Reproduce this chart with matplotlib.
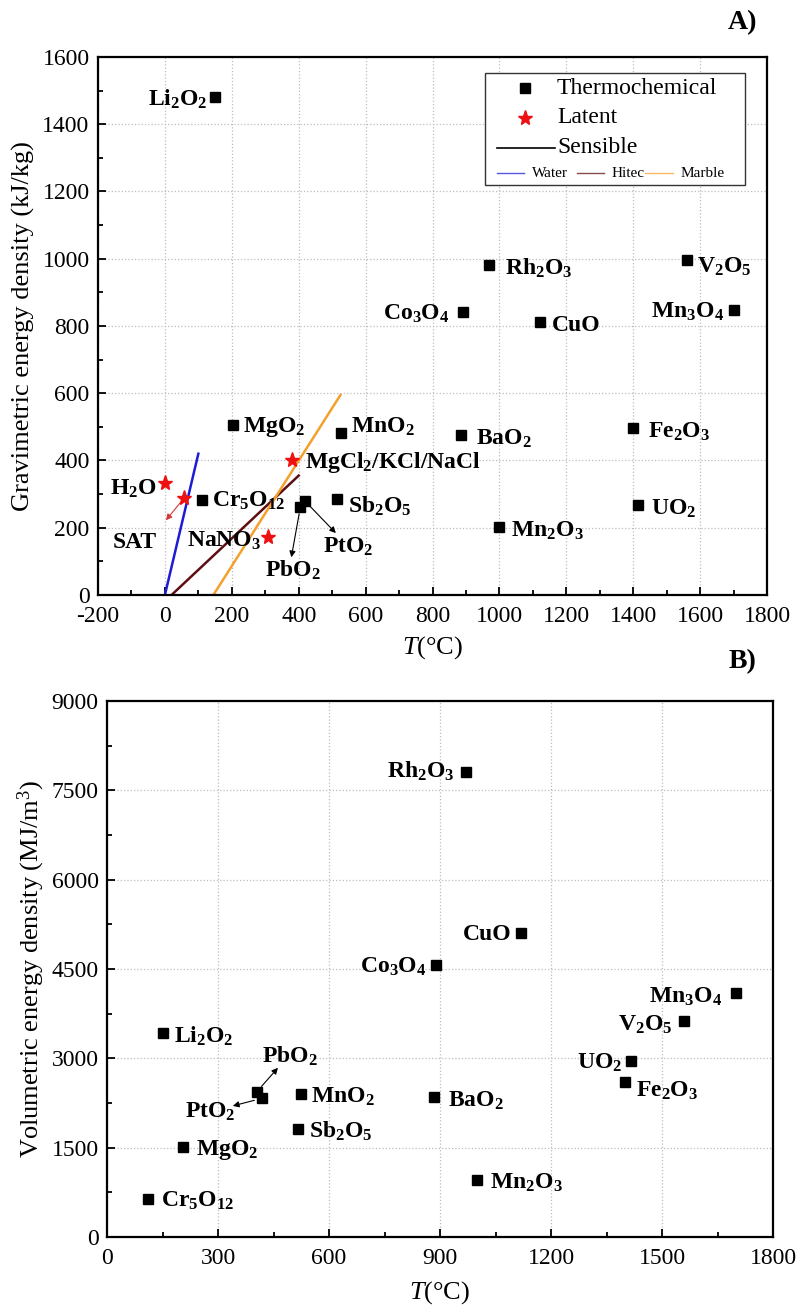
import re
import matplotlib
matplotlib.use("Agg")
import matplotlib.pyplot as plt
from matplotlib.patches import Rectangle
from matplotlib.ticker import MultipleLocator

plt.rcParams['font.family'] = ['Liberation Serif', 'DejaVu Serif']
plt.rcParams['mathtext.fontset'] = 'custom'
plt.rcParams['mathtext.rm'] = 'Liberation Serif'
plt.rcParams['mathtext.it'] = 'Liberation Serif:italic'
plt.rcParams['mathtext.bf'] = 'Liberation Serif:bold'
plt.rcParams['axes.unicode_minus'] = False

# ---- A) gravimetric energy density ----
chem_a = ["Li2O2", "Rh2O3", "V2O5", "Co3O4", "CuO", "Mn3O4", "MgO2", "MnO2",
          "BaO2", "Fe2O3", "UO2", "Mn2O3", "Sb2O5", "Cr5O12", "PbO2", "PtO2"]
temp_a = [150, 970, 1560, 890, 1120, 1700, 205, 525,
          885, 1400, 1415, 1000, 515, 110, 405, 420]
grav_a = [1480, 980, 995, 842, 812, 848, 505, 482,
          475, 497, 268, 202, 285, 282, 262, 278]

latent_names = ["H2O", "SAT", "MgCl2/KCl/NaCl", "NaNO3"]
latent_temp = [0, 58, 380, 307]
latent_grav = [333, 289, 400, 173]

# sensible storage lines (start/end)
sens_names = ["Water", "Hitec", "Marble"]
sens_t0 = [0, 20, 145]
sens_t1 = [100, 400, 525]
sens_e0 = [0, 0, 0]
sens_e1 = [420, 355, 595]
sens_colors = ["#1c1cd6", "#5e0e10", "#f4a02c"]

# ---- B) volumetric energy density ----
chem_b = ["Rh2O3", "CuO", "Co3O4", "Mn3O4", "V2O5", "UO2", "Fe2O3", "BaO2",
          "Mn2O3", "Li2O2", "MnO2", "Sb2O5", "MgO2", "Cr5O12", "PbO2", "PtO2"]
temp_b = [970, 1120, 890, 1700, 1560, 1415, 1400, 885,
          1000, 150, 525, 515, 205, 110, 405, 420]
vol_b = [7800, 5100, 4560, 4090, 3620, 2960, 2600, 2350,
         950, 3420, 2400, 1810, 1510, 640, 2440, 2330]

# label placement: (dx px, dy px of baseline, ha)
place_a = {"Li2O2": (-8, -8, "right"), "Rh2O3": (16, -9, "left"),
           "V2O5": (10, -12, "left"), "Co3O4": (-13, -8, "right"),
           "CuO": (12, -9, "left"), "Mn3O4": (-10, -8, "right"),
           "MgO2": (10, -7, "left"), "MnO2": (10, 0, "left"),
           "BaO2": (15, -9, "left"), "Fe2O3": (15, -10, "left"),
           "UO2": (13, -10, "left"), "Mn2O3": (12, -10, "left"),
           "Sb2O5": (11, -14, "left"), "Cr5O12": (10, -7, "left"),
           "H2O": (-8, -12, "right"), "MgCl2/KCl/NaCl": (13, -8, "left"),
           "NaNO3": (-6, -10, "right")}
place_b = {"Rh2O3": (-11, -5, "right"), "CuO": (-10, -7, "right"),
           "Co3O4": (-10, -7, "right"), "Mn3O4": (-14, -9, "right"),
           "V2O5": (-12, -9, "right"), "UO2": (-8, -8, "right"),
           "Fe2O3": (11, -15, "left"), "BaO2": (14, -10, "left"),
           "Mn2O3": (13, -8, "left"), "Li2O2": (11, -9, "left"),
           "MnO2": (10, -9, "left"), "Sb2O5": (11, -9, "left"),
           "MgO2": (13, -8, "left"), "Cr5O12": (13, -8, "left")}

PX = 0.72  # px -> pt at dpi 100
LBL = 17


def fmt(name):
    return re.sub(r'(\d+)', r'$_\\mathbf{\1}$', name)


def style_axes(ax, xmaj, xmin, ymaj, ymin):
    ax.xaxis.set_major_locator(MultipleLocator(xmaj))
    ax.xaxis.set_minor_locator(MultipleLocator(xmin))
    ax.yaxis.set_major_locator(MultipleLocator(ymaj))
    ax.yaxis.set_minor_locator(MultipleLocator(ymin))
    ax.tick_params(which='both', direction='in', top=False, right=False,
                   labelsize=17, width=1.3)
    ax.tick_params(which='major', length=6, pad=6)
    ax.tick_params(axis='x', which='major', pad=8)
    ax.tick_params(which='minor', length=3.5)
    for s in ax.spines.values():
        s.set_linewidth(1.6)
    ax.grid(True, which='major', linestyle=':', color='#bdbdbd', lw=0.9)
    ax.set_axisbelow(True)


def put_label(ax, name, x, y, place):
    dx, dy, ha = place[name]
    ax.annotate(fmt(name), (x, y), xytext=(dx * PX, dy * PX),
                textcoords='offset points', ha=ha, va='baseline',
                fontsize=LBL, fontweight='bold')


fig = plt.figure(figsize=(7.98, 13.07), dpi=100)
axA = fig.add_axes([0.1228, 0.5448, 0.8384, 0.4116])
axB = fig.add_axes([0.1341, 0.0536, 0.8346, 0.4101])

# ---------------- panel A ----------------
for n, t0, t1, e0, e1, c in zip(sens_names, sens_t0, sens_t1, sens_e0, sens_e1, sens_colors):
    axA.plot([t0, t1], [e0, e1], color=c, lw=1.8)

axA.plot(temp_a, grav_a, 's', color='k', ms=7.5, zorder=4)
axA.plot(latent_temp, latent_grav, '*', color='#ee1111', ms=11, zorder=4)

for n, x, y in zip(chem_a, temp_a, grav_a):
    if n in place_a:
        put_label(axA, n, x, y, place_a)
for n, x, y in zip(latent_names, latent_temp, latent_grav):
    if n in place_a:
        put_label(axA, n, x, y, place_a)

# SAT label with arrow
i = latent_names.index("SAT")
axA.annotate("", xy=(3, 222), xytext=(latent_temp[i], latent_grav[i]),
             arrowprops=dict(arrowstyle='-|>', color='#d23a3a', lw=0.8, mutation_scale=9,
                             shrinkA=4, shrinkB=0))
axA.text(-90, 140, "SAT", ha='center', va='baseline', fontsize=LBL, fontweight='bold')

# PbO2 / PtO2 arrows
i = chem_a.index("PbO2")
axA.annotate("", xy=(378, 112), xytext=(temp_a[i], grav_a[i]),
             arrowprops=dict(arrowstyle='-|>', color='k', lw=0.8, mutation_scale=9,
                             shrinkA=5, shrinkB=0))
axA.text(383, 54, fmt("PbO2"), ha='center', va='baseline', fontsize=LBL, fontweight='bold')
i = chem_a.index("PtO2")
axA.annotate("", xy=(511, 184), xytext=(temp_a[i], grav_a[i]),
             arrowprops=dict(arrowstyle='-|>', color='k', lw=0.8, mutation_scale=9,
                             shrinkA=5, shrinkB=0))
axA.text(547, 125, fmt("PtO2"), ha='center', va='baseline', fontsize=LBL, fontweight='bold')

axA.set_xlim(-200, 1800)
axA.set_ylim(0, 1600)
style_axes(axA, 200, 100, 200, 100)
axA.set_xlabel(r"$\mathit{T}$(°C)", fontsize=19)
axA.set_ylabel("Gravimetric energy density (kJ/kg)", fontsize=19)
axA.xaxis.set_label_coords(0.5, -0.072)
axA.yaxis.set_label_coords(-0.094, 0.5)

# legend drawn by hand
tr = axA.transAxes
axA.add_patch(Rectangle((0.578, 0.762), 0.389, 0.208, transform=tr, fill=True,
                        facecolor='white', edgecolor='#333333', lw=1.0, zorder=5))
axA.plot([0.638], [0.942], 's', color='k', ms=7.5, transform=tr, zorder=6)
axA.text(0.686, 0.942, "Thermochemical", transform=tr, fontsize=17, va='center', zorder=6)
axA.plot([0.638], [0.887], '*', color='#ee1111', ms=11, transform=tr, zorder=6)
axA.text(0.686, 0.887, "Latent", transform=tr, fontsize=17, va='center', zorder=6)
axA.plot([0.596, 0.683], [0.831, 0.831], color='k', lw=1.2, transform=tr, zorder=6)
axA.text(0.686, 0.831, "Sensible", transform=tr, fontsize=17, va='center', zorder=6)
sub_x = [0.596, 0.716, 0.818]
for n, c, x0 in zip(sens_names, sens_colors, sub_x):
    axA.plot([x0, x0 + 0.041], [0.784, 0.784], color=c, lw=1.0, alpha=0.75,
             transform=tr, zorder=6)
    axA.text(x0 + 0.052, 0.784, n, transform=tr, fontsize=11, va='center', zorder=6)

# ---------------- panel B ----------------
axB.plot(temp_b, vol_b, 's', color='k', ms=7.5, zorder=4)
for n, x, y in zip(chem_b, temp_b, vol_b):
    if n in place_b:
        put_label(axB, n, x, y, place_b)

i = chem_b.index("PbO2")
axB.annotate("", xy=(462, 2840), xytext=(temp_b[i], vol_b[i]),
             arrowprops=dict(arrowstyle='-|>', color='k', lw=0.8, mutation_scale=9,
                             shrinkA=5, shrinkB=0))
axB.text(495, 2920, fmt("PbO2"), ha='center', va='baseline', fontsize=LBL, fontweight='bold')
i = chem_b.index("PtO2")
axB.annotate("", xy=(340, 2200), xytext=(temp_b[i], vol_b[i]),
             arrowprops=dict(arrowstyle='-|>', color='k', lw=0.8, mutation_scale=9,
                             shrinkA=6, shrinkB=0))
axB.text(278, 2000, fmt("PtO2"), ha='center', va='baseline', fontsize=LBL, fontweight='bold')

axB.set_xlim(0, 1800)
axB.set_ylim(0, 9000)
style_axes(axB, 300, 150, 1500, 750)
axB.set_xlabel(r"$\mathit{T}$(°C)", fontsize=19)
axB.set_ylabel(r"Volumetric energy density (MJ/m$^3$)", fontsize=19)
axB.xaxis.set_label_coords(0.5, -0.078)
axB.yaxis.set_label_coords(-0.09, 0.5)

fig.text(0.931, 0.983, "A)", fontsize=20, fontweight='bold', ha='center', va='center')
fig.text(0.931, 0.4935, "B)", fontsize=20, fontweight='bold', ha='center', va='center')

fig.savefig("out.png", dpi=100)
